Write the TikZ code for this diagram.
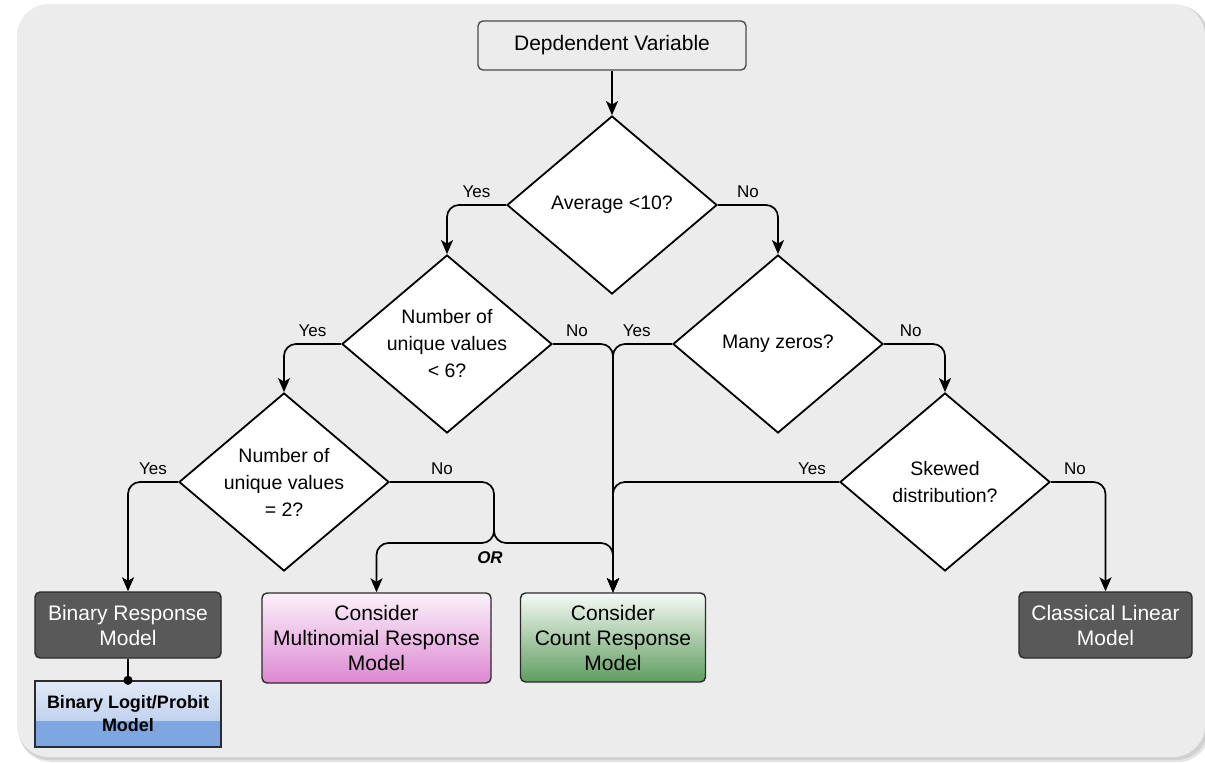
\documentclass[tikz,border=0pt]{standalone}
\usepackage{fontspec}
\setmainfont{Liberation Sans}
\usetikzlibrary{shapes.geometric,arrows.meta}
\definecolor{bgc}{HTML}{ECECEC}
\definecolor{darkbox}{HTML}{595959}
\definecolor{edgec}{HTML}{2B2B2B}
\definecolor{blueT}{HTML}{E2EAF6}
\definecolor{blueM}{HTML}{A9C2E8}
\definecolor{blueB}{HTML}{7EA6E0}
\definecolor{pinkT}{HTML}{FBF1FA}
\definecolor{pinkB}{HTML}{DD88D2}
\definecolor{greenT}{HTML}{F6FAF6}
\definecolor{greenB}{HTML}{5F9C5F}
\tikzset{
  dec/.style={diamond, draw=black, line width=1.8pt, fill=white,
    minimum width=210pt, minimum height=178pt, inner sep=0pt},
  qtext/.style={align=center, font=\fontsize{19.5}{27}\selectfont},
  box/.style={rectangle, rounded corners=5pt, draw=edgec, line width=1.4pt,
    align=center, inner sep=0pt, font=\fontsize{21}{25}\selectfont},
  dark/.style={box, fill=darkbox, text=white},
  flow/.style={line width=1.7pt, rounded corners=12pt,
    -{Stealth[length=14pt,width=12pt,inset=3.5pt]}},
  yn/.style={above=3pt, font=\fontsize{17}{20}\selectfont}
}
\begin{document}
\begin{tikzpicture}[x=1pt,y=-1pt]
    \useasboundingbox (0,0) rectangle (1205,763);
    %Background
    \fill[black!10, rounded corners=32pt] (19,7) rectangle (1210,762);
    \fill[black!18, rounded corners=32pt] (18,5) rectangle (1208,760);
    \fill[bgc, rounded corners=32pt] (17,4) rectangle (1205,757);
    %Start
    \node[box, fill=bgc, draw=black!70, minimum width=268pt, minimum height=49pt]
      (dv) at (612,45.5) {Depdendent Variable};
    %Decisions
    \node[dec, label={[qtext]center:Average <10?}] (d1) at (612,205) {};
    \node[dec, label={[qtext]center:Number of\\unique values\\< 6?}] (d2) at (447,344) {};
    \node[dec, label={[qtext]center:Many zeros?}] (d3) at (778,344) {};
    \node[dec, label={[qtext]center:Number of\\unique values\\= 2?}] (d4) at (284,482) {};
    \node[dec, label={[qtext]center:Skewed\\distribution?}] (d5) at (945,482) {};
    %Outcomes
    \node[dark, minimum width=186pt, minimum height=66pt] (bin) at (128,625)
      {Binary Response\\Model};
    \node[rectangle, draw=edgec, line width=1.4pt, minimum width=186pt, minimum height=66pt,
      fill=blueB, align=center, font=\fontsize{18}{23}\selectfont\bfseries,
      path picture={\fill[top color=blueT, bottom color=blueM]
        (path picture bounding box.north west) rectangle ([yshift=-6pt]path picture bounding box.east);}]
      (logit) at (128,714) {Binary Logit/Probit\\Model};
    \node[box, minimum width=229pt, minimum height=90pt, top color=pinkT, bottom color=pinkB]
      (mult) at (376.5,638) {Consider\\Multinomial Response\\Model};
    \node[box, minimum width=185pt, minimum height=89pt, top color=greenT, bottom color=greenB]
      (cnt) at (613,637.5) {Consider\\Count Response\\Model};
    \node[dark, minimum width=173pt, minimum height=66pt] (lin) at (1105.5,625)
      {Classical Linear\\Model};
    \coordinate (orsplit) at (494,543);
    %Connectors
    \draw[flow] (dv.south) -- (d1.north);
    \draw[flow] (d1.west) -| node[yn, pos=0.25] {Yes} (d2.north);
    \draw[flow] (d1.east) -| node[yn, pos=0.25] {No} (d3.north);
    \draw[flow] (d2.west) -| node[yn, pos=0.25] {Yes} (d4.north);
    \draw[flow] (d2.east) -| node[yn, pos=0.2] {No} (cnt.north);
    \draw[flow] (d3.west) -| node[yn, pos=0.3] {Yes} (cnt.north);
    \draw[flow] (d3.east) -| node[yn, pos=0.22] {No} (d5.north);
    \draw[flow] (d4.west) -| node[yn, pos=0.25] {Yes} (bin.north);
    \draw[flow] (d4.east) -| node[yn, pos=0.25] {No} (orsplit) -| (mult.north);
    \draw[flow] (orsplit) ++(0,-30) |- (cnt.north |- orsplit) -- (cnt.north);
    \draw[flow] (d5.west) -| node[yn, pos=0.06] {Yes} (cnt.north);
    \draw[flow] (d5.east) -| node[yn, pos=0.22] {No} (lin.north);
    \draw[line width=1.7pt, -{Circle[length=9pt]}, shorten >=-4.5pt] (bin.south) -- (logit.north);
    \node[font=\fontsize{17}{20}\selectfont\bfseries\itshape] (ortxt) at (490,558) {OR};
\end{tikzpicture}
\end{document}
